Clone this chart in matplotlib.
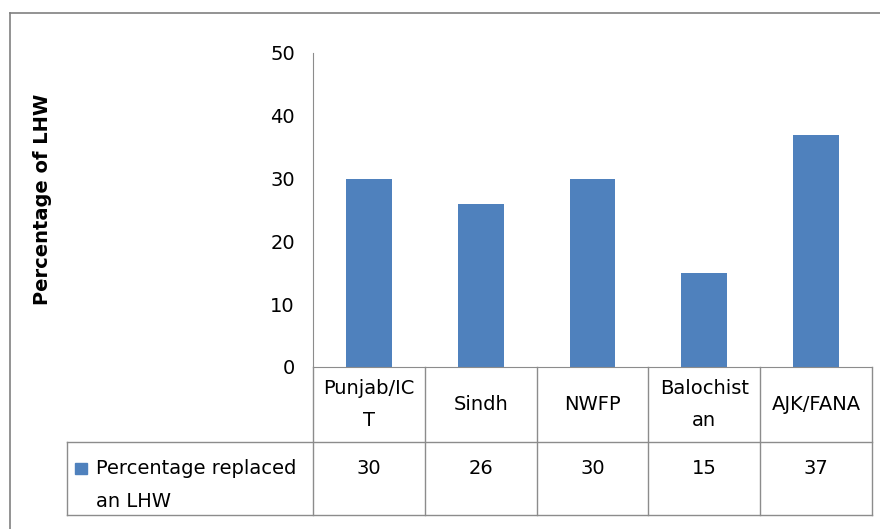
import matplotlib.pyplot as plt
from matplotlib.lines import Line2D
from matplotlib.patches import Rectangle
from matplotlib.transforms import blended_transform_factory

plt.rcParams['font.family'] = ['DejaVu Sans']

categories = ["Punjab/IC\nT", "Sindh", "NWFP", "Balochist\nan", "AJK/FANA"]
values = [30, 26, 30, 15, 37]
series_name = "Percentage replaced\nan LHW"
y_ticks = [0, 10, 20, 30, 40, 50]
y_label = "Percentage of LHWs"

W, H = 880, 529
BAR = '#4F81BD'
GRID = '#8C8C8C'
FS = 14


def fx(px):
    return px / W


def fy(py):
    # pixel row from top -> figure fraction
    return 1 - py / H


fig = plt.figure(figsize=(W / 100, H / 100), dpi=100)
ax = fig.add_axes([fx(313), fy(367), fx(872) - fx(313), fy(53) - fy(367)])

ax.bar(range(len(values)), values, width=0.41, color=BAR, zorder=2)
ax.set_xlim(-0.5, len(values) - 0.5)
ax.set_ylim(0, 50)
ax.set_yticks(y_ticks)
ax.set_xticks([])
ax.tick_params(axis='y', length=0, pad=13, labelsize=FS)
for s in ['top', 'right']:
    ax.spines[s].set_visible(False)
ax.spines['left'].set_color(GRID)
ax.spines['bottom'].set_color(GRID)

# data table under the axis (x in data units, y in axes fraction)
tr = blended_transform_factory(ax.transData, ax.transAxes)
ax_h = 367 - 53
hdr_bot = -(442 - 367) / ax_h
row_bot = -(515 - 367) / ax_h
cat_w = (872 - 313) / len(values)
leg_left = -0.5 - (313 - 67) / cat_w

for i in range(len(values) + 1):
    ax.add_line(Line2D([i - 0.5, i - 0.5], [0, row_bot], color=GRID, lw=1,
                       transform=tr, clip_on=False))
for yy in [hdr_bot, row_bot]:
    ax.add_line(Line2D([leg_left, len(values) - 0.5], [yy, yy], color=GRID, lw=1,
                       transform=tr, clip_on=False))
ax.add_line(Line2D([leg_left, leg_left], [hdr_bot, row_bot], color=GRID, lw=1,
                   transform=tr, clip_on=False))

for i, (c, v) in enumerate(zip(categories, values)):
    ax.text(i, hdr_bot / 2, c, ha='center', va='center', fontsize=FS,
            linespacing=1.8, transform=tr, clip_on=False)
    ax.text(i, -(468 - 367) / ax_h, str(v), ha='center', va='center',
            fontsize=FS, transform=tr, clip_on=False)

# legend key inside the table row
fig.patches.append(Rectangle((fx(75), fy(474)), fx(12), 11 / H, color=BAR,
                             transform=fig.transFigure))
fig.text(fx(96), fy(485), series_name, ha='left', va='center', fontsize=FS,
         linespacing=1.95)

# axis title, cut off at the top like the original
fig.text(fx(42), fy(305), y_label, rotation=90, ha='center', va='bottom',
         fontsize=FS, fontweight='bold')
fig.patches.append(Rectangle((fx(20), fy(94)), fx(50), fy(40) - fy(94),
                             color='white', zorder=5, transform=fig.transFigure))

# chart frame
fig.lines.append(Line2D([fx(10), 1], [fy(13), fy(13)], color='#808080', lw=1.2,
                        transform=fig.transFigure))
fig.lines.append(Line2D([fx(10), fx(10)], [fy(13), 0], color='#808080', lw=1.2,
                        transform=fig.transFigure))

fig.savefig('out.png', dpi=100)
